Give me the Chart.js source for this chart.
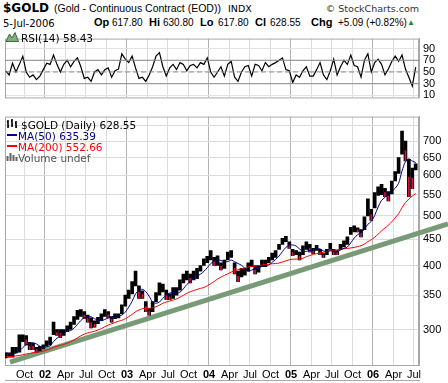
<!DOCTYPE html>
<html><head><meta charset="utf-8">
<script src="https://cdn.jsdelivr.net/npm/chart.js@4"></script>
<style>
body{margin:0;background:#fff;width:448px;height:383px;overflow:hidden;position:relative;font-family:"Liberation Sans",Arial,sans-serif;color:#000}
canvas{position:absolute;left:0}
.t{position:absolute;white-space:nowrap;line-height:1}
.b{font-weight:bold;font-size:11px}
.n{font-size:10px}
</style></head><body>
<div class="t" style="left:3px;top:1px;font:bold 12px 'DejaVu Sans',sans-serif">$GOLD</div>
<div class="t" style="left:54px;top:3px;font-size:10.5px">(Gold - Continuous Contract (EOD))</div>
<div class="t" style="left:228px;top:3px;font:9.5px 'DejaVu Sans',sans-serif">INDX</div>
<div class="t" style="right:29px;top:3px;font:9.5px 'DejaVu Sans',sans-serif;color:#333">© StockCharts.com</div>
<div class="t" style="left:3px;top:18px;font:10px 'DejaVu Sans',sans-serif">5-Jul-2006</div>
<div class="t b" style="left:94px;top:17px">Op</div><div class="t n" style="left:112px;top:18px">617.80</div>
<div class="t b" style="left:149px;top:17px">Hi</div><div class="t n" style="left:163px;top:18px">630.80</div>
<div class="t b" style="left:200px;top:17px">Lo</div><div class="t n" style="left:218px;top:18px">617.80</div>
<div class="t b" style="left:255px;top:17px">Cl</div><div class="t n" style="left:270px;top:18px">628.55</div>
<div class="t b" style="left:311px;top:17px">Chg</div><div class="t n" style="left:338px;top:18px">+5.09 (+0.82%)</div>
<div class="t" style="left:407px;top:19px;font-size:8px;color:#2a8a2a">▲</div>

<canvas id="rsi" width="448" height="80" style="top:28px"></canvas>
<canvas id="px" width="448" height="277" style="top:106px"></canvas>

<svg style="position:absolute;left:6px;top:32px" width="13" height="10"><polygon points="0,9.5 3.5,2 6,6 9,0.5 12.5,9.5" fill="#7fae7f" stroke="#3d6b3d" stroke-width="1"/></svg>
<div class="t" style="left:21px;top:32px;font:10.5px 'DejaVu Sans',sans-serif">RSI(14) 58.43</div>

<svg style="position:absolute;left:6px;top:119px" width="12" height="10"><path d="M2 1v8M1 3h1M2 7h1M6 0v8M5 2h1M6 6h1M10 2v7M9 4h1M10 8h1" stroke="#000" stroke-width="1.6" fill="none"/></svg>
<div class="t" style="left:21px;top:119px;font:10.5px 'DejaVu Sans',sans-serif">$GOLD (Daily) 628.55</div>
<div style="position:absolute;left:7px;top:134px;width:10px;height:2px;background:#00008b"></div>
<div class="t" style="left:18px;top:130px;font:10.5px 'DejaVu Sans',sans-serif;color:#00008b">MA(50) 635.39</div>
<div style="position:absolute;left:7px;top:145px;width:10px;height:2px;background:#ff0000"></div>
<div class="t" style="left:18px;top:141px;font:10.5px 'DejaVu Sans',sans-serif;color:#ff0000">MA(200) 552.66</div>
<svg style="position:absolute;left:6px;top:152px" width="12" height="9"><path d="M1.5 9V4M4.5 9V1M7.5 9V3M10.5 9V5" stroke="#666" stroke-width="2"/></svg>
<div class="t" style="left:18px;top:152px;font:10.5px 'DejaVu Sans',sans-serif;color:#555">Volume undef</div>

<div style="position:absolute;left:5px;top:380px;width:415px;height:1px;background:#aaa"></div>

<script>
// ---- data ----
const tickValues = [2001.75,2002,2002.25,2002.5,2002.75,2003,2003.25,2003.5,2003.75,2004,2004.25,2004.5,2004.75,2005,2005.25,2005.5,2005.75,2006,2006.25,2006.5];
const tickLabels = ['Oct','02','Apr','Jul','Oct','03','Apr','Jul','Oct','04','Apr','Jul','Oct','05','Apr','Jul','Oct','06','Apr','Jul'];
const priceTicks = [300,350,400,450,500,550,600,650,700,750];
const priceLabelMax = 700;
const rsiTicks = [10,30,50,70,90];
const rsiLevels = [30,50,70];
const firstPeriod = 2001.5;    // semi-monthly periods, Jul 2001 (1st half) .. Jul 2006 (1st half)
const periodsPerYear = 24;

const priceLow = [264,265,265,270,271,284,280,274,274,271,272,275,
 278,280,293,292,289,292,297,300,307,314,318,315,310,302,303,308,312,318,316,310,315,316,322,333,
 345,352,365,345,345,325,320,325,340,350,355,343,343,345,350,358,370,375,370,375,377,390,400,405,
 410,400,400,392,395,410,415,385,372,380,383,390,398,385,388,398,398,405,410,415,430,440,445,432,
 418,420,410,420,430,425,422,428,420,415,420,430,420,420,430,435,440,460,465,465,455,470,500,490,
 518,548,550,545,535,552,585,605,660,640,545,565,615];
const priceHigh = [270,270,277,277,293,293,292,283,282,277,278,280,
 285,290,310,300,300,300,305,310,318,327,328,325,320,316,312,317,322,328,325,318,322,322,335,350,
 358,372,390,365,357,340,330,340,354,370,368,358,352,362,362,375,385,390,385,390,395,400,412,417,
 428,415,418,405,410,425,428,405,390,395,395,405,410,400,400,410,410,415,423,428,440,452,456,445,
 430,428,425,437,445,440,432,438,430,422,430,442,430,428,440,447,455,475,478,474,470,498,540,515,
 555,570,576,566,558,585,610,650,732,700,645,620,632];
const ma50 = [270,269,268,269.8,272.2,276.5,280.2,281.7,282.6,281,278.3,276.6,
 277.2,278.6,284.1,288.3,291.7,294.6,297.8,298.5,301.8,307,312.4,316.2,318.2,317.5,314.9,312.8,312.2,313.8,316.1,317.4,318.6,319,320.1,324.3,
 331.8,340.5,352.2,357.5,359.4,355.6,348.2,339.2,337.6,339.4,345.2,350.3,353.3,354.6,353.8,354.8,360.2,367.2,372,377.3,381.2,384.7,389.4,396.1,
 403.4,407.7,410.5,409,407.3,407,409.8,407,403.5,400.5,394.8,390,391.8,394.1,395.4,398.4,399.7,400.9,405.7,411.2,417.4,425.8,433.9,438.3,
 438.8,436.6,430.9,426.5,426.3,428,428.6,431.7,431,427.2,425.7,427.5,425.9,425.7,429,432.2,434.5,443,452.5,459.4,463.7,471,481.5,487.7,
 501.1,520.4,536.2,543.3,552.1,558.5,566.2,579.1,612,638,646,640,635.4];
const ma200 = [265.6,265.6,265.9,266.3,266.9,267.7,268.7,269.4,270.2,270.8,271.4,272.2,
 273.5,274.8,276.8,278.2,279.3,280.6,282.1,284,286.2,288.9,291.5,293.8,295.5,296.5,297.6,299.3,301.2,303.7,305.9,307.8,309.6,311.3,312.7,314.9,
 317.8,321.1,324.9,327.4,329.3,329.9,330,330.7,332.3,334.8,337.5,339.4,340.9,342.5,344.2,346.9,349.8,353,355.4,357.5,359.2,360.9,362.3,365.1,
 368.5,372.2,376.4,379.7,382.5,385.4,388.4,390.6,392.3,394,395.6,397.2,398.5,399,399.8,400.9,401.8,402.6,403.1,403.6,404.4,406.3,408.4,410.4,
 411.5,411.8,411.6,413.3,416.1,418.4,420.3,422,423.1,424.4,425.9,427.5,428.6,429.3,430.2,431.2,431.8,432.9,433.9,435.5,437.4,440.4,445.5,449.2,
 454.2,460.5,467.3,473.4,479.5,487,495.6,505.2,518.8,531.1,539.1,546.6,552.7];
const rsi14 = [52,45,65,50,63,77,50,41,45,37,43,54,65,63,79,63,50,63,70,59,68,74,59,39,41,34,50,54,45,54,57,41,52,55,81,72,66,77,57,39,41,34,45,59,77,83,59,43,57,63,54,66,63,52,61,63,57,66,63,74,
 50,41,50,59,43,63,68,41,34,50,59,61,43,63,61,52,66,59,63,66,70,74,54,52,32,45,41,52,59,43,43,54,66,45,37,52,72,45,59,70,63,79,61,59,41,70,81,50,66,72,63,45,55,68,77,68,79,55,41,26,58.43];
const trendDates = [2001.573, 2006.915];
const trendPrices = [259, 482.5];

// ---- layout / style ----
const xMin = 2001.5122, xMax = 2006.561;
const periodX = i => firstPeriod + (i + 0.5) / periodsPerYear;
const isYear = v => Math.abs(v - Math.round(v)) < 1e-6;
const gridX = ctx => (ctx.tick && isYear(ctx.tick.value)) ? '#b4b4b4' : '#dcdcdc';
const axisFont = {family:"'Liberation Sans', Arial, sans-serif", size:11};
const frame = {id:'frame', beforeDatasetsDraw(c){const a=c.chartArea,g=c.ctx;g.save();g.strokeStyle='#a8a8a8';g.lineWidth=1;g.strokeRect(a.left+0.5,a.top+0.5,a.right-a.left-1,a.bottom-a.top);g.restore();}};
const common = {responsive:false, animation:false, events:[], plugins:{legend:{display:false}, tooltip:{enabled:false}}};
const xScale = (showLabels) => ({
  type:'linear', min:xMin, max:xMax, offset:false,
  afterBuildTicks: s => { s.ticks = tickValues.map(v => ({value:v})); },
  afterFit: s => { s.height = showLabels ? 18 : 0; },
  grid:{color:gridX, drawTicks:false, offset:false},
  border:{display:false},
  ticks:{display:showLabels, autoSkip:false, maxRotation:0, padding:3, color:'#000',
    font: ctx => ({...axisFont, weight: (ctx.tick && isYear(ctx.tick.value)) ? 'bold' : 'normal'}),
    callback: (v) => { const k = tickValues.findIndex(t => Math.abs(t - v) < 1e-6); return k >= 0 ? tickLabels[k] : ''; }}
});

new Chart(document.getElementById('rsi'), {
  type:'line',
  data:{datasets:[
    ...rsiLevels.map(l => ({data:[{x:xMin,y:l},{x:xMax,y:l}], borderColor:'#8a8a8a', borderWidth:1, borderDash: l===50?[5,3]:[], pointRadius:0})),
    {data: rsi14.map((v,i) => ({x:periodX(i), y:v})), borderColor:'#000', borderWidth:1.2, pointRadius:0, tension:0}
  ]},
  options:{...common,
    layout:{padding:{top:3,left:5,right:0,bottom:3}},
    scales:{
      x: xScale(false),
      y:{position:'right', min:6.6, max:107,
        afterBuildTicks: s => { s.ticks = rsiTicks.map(v => ({value:v})); },
        afterFit: s => { s.width = 29; },
        grid:{color:'#e2e2e2', drawTicks:false}, border:{color:'#a8a8a8'},
        ticks:{font:axisFont, color:'#000', padding:4, autoSkip:false}}
    }},
  plugins:[frame]
});

const mids = priceLow.map((l,i) => (l + priceHigh[i]) / 2);
const isDown = mids.map((m,i) => i > 0 && m < mids[i-1]);

new Chart(document.getElementById('px'), {
  type:'line',
  data:{datasets:[
    {type:'line', data: trendDates.map((d,i) => ({x:d, y:trendPrices[i]})), borderColor:'#789a76', borderWidth:5, pointRadius:0, clip:false, order:10},
    {type:'bar', data: priceLow.map((l,i) => ({x:periodX(i), y:[l, priceHigh[i]]})), backgroundColor:'#000', barThickness:3, borderWidth:0, grouped:false, order:4},
    {type:'bar', data: priceLow.map((l,i) => ({x:periodX(i), y: isDown[i] ? [l, mids[i]] : null})), backgroundColor:'#e0103a', barThickness:1, borderWidth:0, grouped:false, order:3},
    {type:'line', data: ma200.map((v,i) => ({x:periodX(i), y:v})), borderColor:'#ff0000', borderWidth:1, pointRadius:0, tension:0.3, order:2},
    {type:'line', data: ma50.map((v,i) => ({x:periodX(i), y:v})), borderColor:'#00008b', borderWidth:1, pointRadius:0, tension:0.3, order:1}
  ]},
  options:{...common,
    layout:{padding:{top:2,left:5,right:0,bottom:0}},
    scales:{
      x: xScale(true),
      y:{type:'logarithmic', position:'right', min:255.7, max:781.4,
        afterBuildTicks: s => { s.ticks = priceTicks.map(v => ({value:v})); },
        afterFit: s => { s.width = 29; },
        grid:{color:'#dcdcdc', drawTicks:false}, border:{color:'#a8a8a8'},
        ticks:{font:axisFont, color:'#000', padding:4, autoSkip:false, callback: v => v <= priceLabelMax ? String(v) : ''}}
    }},
  plugins:[frame]
});
</script>
</body></html>
